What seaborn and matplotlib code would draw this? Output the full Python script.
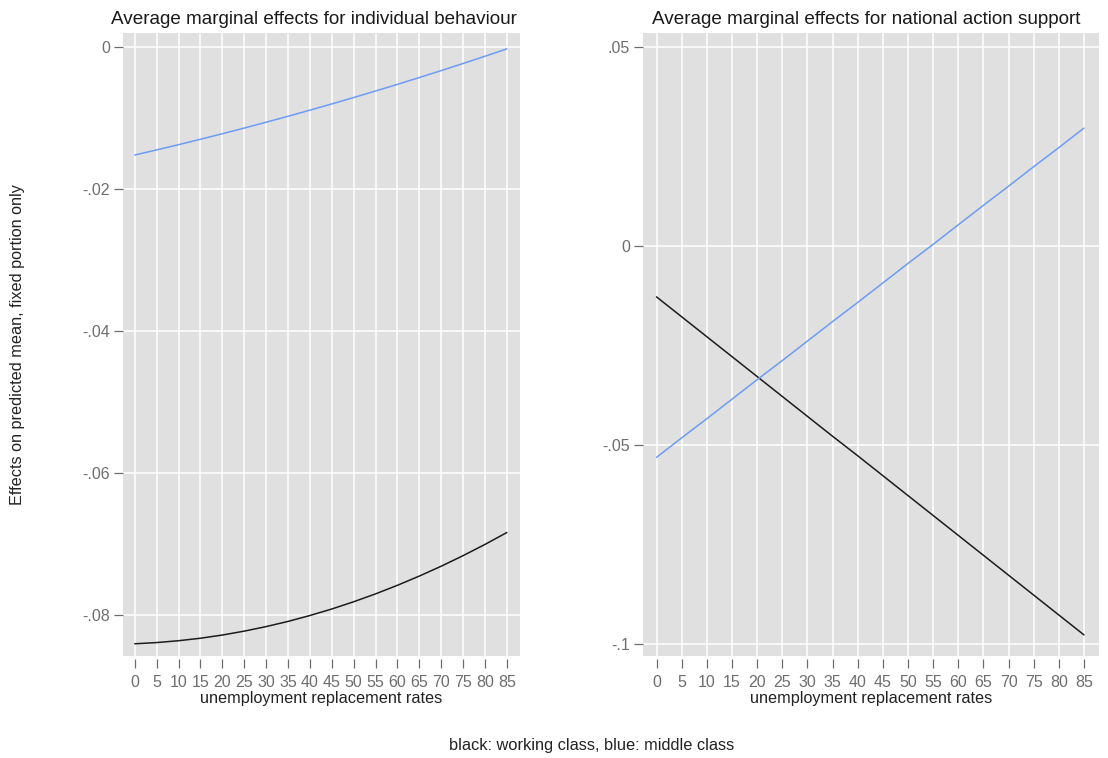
import matplotlib
matplotlib.use("Agg")
import matplotlib.pyplot as plt
import numpy as np
import pandas as pd
import seaborn as sns

# Replacement-rate grid (x axis)
rates = [0, 5, 10, 15, 20, 25, 30, 35, 40, 45, 50, 55, 60, 65, 70, 75, 80, 85]

# Individual behaviour: average marginal effects
indiv_working = [-0.08408, -0.08391, -0.08365, -0.08330, -0.08285, -0.08230,
                 -0.08166, -0.08093, -0.08010, -0.07918, -0.07816, -0.07705,
                 -0.07584, -0.07454, -0.07315, -0.07166, -0.07008, -0.06840]
indiv_middle = [-0.01520, -0.01448, -0.01374, -0.01298, -0.01220, -0.01140,
                -0.01058, -0.00974, -0.00888, -0.00800, -0.00710, -0.00618,
                -0.00524, -0.00428, -0.00330, -0.00230, -0.00128, -0.00024]

# National action support: average marginal effects
nat_working = [-0.0128, -0.0178, -0.0228, -0.0278, -0.0328, -0.0378, -0.0428,
               -0.0478, -0.0527, -0.0577, -0.0627, -0.0677, -0.0727, -0.0777,
               -0.0827, -0.0877, -0.0927, -0.0977]
nat_middle = [-0.0531, -0.0482, -0.0434, -0.0385, -0.0336, -0.0288, -0.0239,
              -0.0190, -0.0142, -0.0093, -0.0044, 0.0004, 0.0053, 0.0102,
              0.0150, 0.0199, 0.0247, 0.0296]

left_yticks = [0, -0.02, -0.04, -0.06, -0.08]
left_ylabels = ["0", "-.02", "-.04", "-.06", "-.08"]
right_yticks = [0.05, 0, -0.05, -0.1]
right_ylabels = [".05", "0", "-.05", "-.1"]

titles = ["Average marginal effects for individual behaviour",
          "Average marginal effects for national action support"]
xlabel = "unemployment replacement rates"
ylabel = "Effects on predicted mean, fixed portion only"
note = "black: working class, blue: middle class"

BG = "#e0e0e0"
TICKGREY = "#6e6e6e"
BLUE = "#6d9cf4"
BLACK = "#1c1c1c"

sns.set_theme(style="white")
plt.rcParams["font.family"] = ["Liberation Sans", "DejaVu Sans"]

def long_frame(working, middle):
    return pd.DataFrame({
        "rate": rates * 2,
        "effect": list(working) + list(middle),
        "class": ["working"] * len(rates) + ["middle"] * len(rates),
    })

fig = plt.figure(figsize=(11.08, 7.58), dpi=100)
ax1 = fig.add_axes([0.111, 0.1346, 0.3583, 0.8219])
ax2 = fig.add_axes([0.5803, 0.1346, 0.4116, 0.8219])

panels = [
    (ax1, long_frame(indiv_working, indiv_middle), (-0.0858, 0.0020),
     left_yticks, left_ylabels),
    (ax2, long_frame(nat_working, nat_middle), (-0.1030, 0.0535),
     right_yticks, right_ylabels),
]

for ax, df, ylim, yt, yl in panels:
    ax.set_facecolor(BG)
    sns.lineplot(data=df, x="rate", y="effect", hue="class",
                 palette={"working": BLACK, "middle": BLUE},
                 linewidth=1.1, legend=False, ax=ax)
    ax.set_xlim(-2.7, 88.0)
    ax.set_ylim(*ylim)
    ax.set_xticks(rates)
    ax.set_xticklabels([str(r) for r in rates])
    ax.set_yticks(yt)
    ax.set_yticklabels(yl)
    ax.grid(True, color="white", linewidth=1.1)
    ax.set_axisbelow(True)
    for s in ax.spines.values():
        s.set_visible(False)
    ax.spines["bottom"].set_position(("outward", 2))
    ax.tick_params(axis="both", which="both", direction="out", length=6.5,
                   width=0.9, color=TICKGREY, labelcolor=TICKGREY,
                   labelsize=11.5, bottom=True, left=True)
    ax.tick_params(axis="x", pad=5.5)
    ax.tick_params(axis="y", pad=3)
    ax.set_xlabel(xlabel, fontsize=11.7, color="#222222", labelpad=0.5)
    ax.set_ylabel("")

ax1.set_title(titles[0], fontsize=13.6, color="#1a1a1a", pad=6.5, x=0.48)
ax2.set_title(titles[1], fontsize=13.6, color="#1a1a1a", pad=6.5, x=0.49)

fig.text(0.016, 0.545, ylabel, rotation=90, ha="center", va="center",
         fontsize=11.7, color="#222222")
fig.text(0.534, 0.016, note, ha="center", va="center",
         fontsize=11.75, color="#222222")

fig.savefig("out.png", dpi=100, facecolor="white")
